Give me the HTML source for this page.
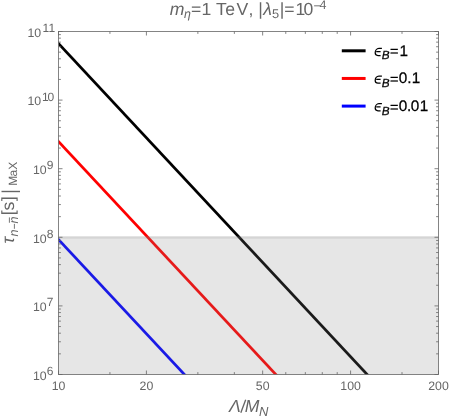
<!DOCTYPE html>
<html><head><meta charset="utf-8"><title>plot</title>
<style>
html,body{margin:0;padding:0;background:#fff;}
svg{display:block;will-change:transform;}
text{font-family:"Liberation Sans",sans-serif;text-rendering:geometricPrecision;}
.g{fill:#666;}
.k{fill:#000;stroke:#000;stroke-width:0.25px;}
.i{font-style:italic;}
</style></head><body>
<svg width="450" height="418" viewBox="0 0 450 418">
<rect x="0" y="0" width="450" height="418" fill="#fff"/>
<defs><clipPath id="c"><rect x="58.5" y="31.5" width="380.0" height="343.0"/></clipPath></defs>

<g>
<line x1="55.5" y1="40.38" x2="372.77" y2="380.5" stroke="#000" stroke-width="2.75" clip-path="url(#c)"/>
<line x1="55.5" y1="138.28" x2="281.45" y2="380.5" stroke="#f00" stroke-width="2.75" clip-path="url(#c)"/>
<line x1="55.5" y1="236.28" x2="190.03" y2="380.5" stroke="#00f" stroke-width="2.75" clip-path="url(#c)"/>
</g>
<rect x="58.5" y="237.30" width="380.0" height="137.20" fill="rgb(128,128,128)" fill-opacity="0.2"/>
<line x1="58.5" y1="237.30" x2="438.5" y2="237.30" stroke="rgb(128,128,128)" stroke-opacity="0.22" stroke-width="2.4"/>
<rect x="58.5" y="31.5" width="380.0" height="343.0" fill="none" stroke="#666" stroke-width="0.8"/>
<path d="M58.50 374.5v-4.0M58.50 31.5v4.0M146.42 374.5v-4.0M146.42 31.5v4.0M262.65 374.5v-4.0M262.65 31.5v4.0M350.58 374.5v-4.0M350.58 31.5v4.0M438.50 374.5v-4.0M438.50 31.5v4.0M109.93 374.5v-2.4M109.93 31.5v2.4M197.86 374.5v-2.4M197.86 31.5v2.4M234.35 374.5v-2.4M234.35 31.5v2.4M285.78 374.5v-2.4M285.78 31.5v2.4M305.33 374.5v-2.4M305.33 31.5v2.4M322.27 374.5v-2.4M322.27 31.5v2.4M337.21 374.5v-2.4M337.21 31.5v2.4M402.01 374.5v-2.4M402.01 31.5v2.4M58.5 374.50h4.0M438.5 374.50h-4.0M58.5 353.85h2.4M438.5 353.85h-2.4M58.5 341.77h2.4M438.5 341.77h-2.4M58.5 333.20h2.4M438.5 333.20h-2.4M58.5 326.55h2.4M438.5 326.55h-2.4M58.5 321.12h2.4M438.5 321.12h-2.4M58.5 316.53h2.4M438.5 316.53h-2.4M58.5 312.55h2.4M438.5 312.55h-2.4M58.5 309.04h2.4M438.5 309.04h-2.4M58.5 305.90h4.0M438.5 305.90h-4.0M58.5 285.25h2.4M438.5 285.25h-2.4M58.5 273.17h2.4M438.5 273.17h-2.4M58.5 264.60h2.4M438.5 264.60h-2.4M58.5 257.95h2.4M438.5 257.95h-2.4M58.5 252.52h2.4M438.5 252.52h-2.4M58.5 247.93h2.4M438.5 247.93h-2.4M58.5 243.95h2.4M438.5 243.95h-2.4M58.5 240.44h2.4M438.5 240.44h-2.4M58.5 237.30h4.0M438.5 237.30h-4.0M58.5 216.65h2.4M438.5 216.65h-2.4M58.5 204.57h2.4M438.5 204.57h-2.4M58.5 196.00h2.4M438.5 196.00h-2.4M58.5 189.35h2.4M438.5 189.35h-2.4M58.5 183.92h2.4M438.5 183.92h-2.4M58.5 179.33h2.4M438.5 179.33h-2.4M58.5 175.35h2.4M438.5 175.35h-2.4M58.5 171.84h2.4M438.5 171.84h-2.4M58.5 168.70h4.0M438.5 168.70h-4.0M58.5 148.05h2.4M438.5 148.05h-2.4M58.5 135.97h2.4M438.5 135.97h-2.4M58.5 127.40h2.4M438.5 127.40h-2.4M58.5 120.75h2.4M438.5 120.75h-2.4M58.5 115.32h2.4M438.5 115.32h-2.4M58.5 110.73h2.4M438.5 110.73h-2.4M58.5 106.75h2.4M438.5 106.75h-2.4M58.5 103.24h2.4M438.5 103.24h-2.4M58.5 100.10h4.0M438.5 100.10h-4.0M58.5 79.45h2.4M438.5 79.45h-2.4M58.5 67.37h2.4M438.5 67.37h-2.4M58.5 58.80h2.4M438.5 58.80h-2.4M58.5 52.15h2.4M438.5 52.15h-2.4M58.5 46.72h2.4M438.5 46.72h-2.4M58.5 42.13h2.4M438.5 42.13h-2.4M58.5 38.15h2.4M438.5 38.15h-2.4M58.5 34.64h2.4M438.5 34.64h-2.4M58.5 31.50h4.0M438.5 31.50h-4.0" stroke="#666" stroke-width="0.8" fill="none"/>
<text class="g" x="58.50" y="390.2" font-size="12.3" text-anchor="middle">10</text>
<text class="g" x="146.42" y="390.2" font-size="12.3" text-anchor="middle">20</text>
<text class="g" x="262.65" y="390.2" font-size="12.3" text-anchor="middle">50</text>
<text class="g" x="350.58" y="390.2" font-size="12.3" text-anchor="middle">100</text>
<text class="g" x="438.50" y="390.2" font-size="12.3" text-anchor="middle">200</text>
<text class="g" x="32.95" y="379.80" font-size="12.3">10</text><text class="g" x="46.85" y="374.90" font-size="12">6</text>
<text class="g" x="32.95" y="311.20" font-size="12.3">10</text><text class="g" x="46.85" y="306.30" font-size="12">7</text>
<text class="g" x="32.95" y="242.60" font-size="12.3">10</text><text class="g" x="46.85" y="237.70" font-size="12">8</text>
<text class="g" x="32.95" y="174.00" font-size="12.3">10</text><text class="g" x="46.85" y="169.10" font-size="12">9</text>
<text class="g" x="27.4" y="105.40" font-size="12.3">10</text><text class="g" x="42.1 47.55" y="100.50" font-size="12">10</text>
<text class="g" x="27.4" y="36.80" font-size="12.3">10</text><text class="g" x="42.5 48.4" y="31.90" font-size="12">11</text>
<text class="g i" x="169.71" y="14.8" font-size="17.6">m</text><text class="g i" x="184.09" y="17.8" font-size="12.4">η</text><text class="g" x="190.94" y="14.8" font-size="17.6">=</text><text class="g" x="201.46" y="14.8" font-size="17.6">1</text><text class="g" x="216.10" y="14.8" font-size="17.6">T</text><text class="g" x="225.25" y="14.8" font-size="17.6">e</text><text class="g" x="236.42" y="14.8" font-size="17.6">V</text><text class="g" x="248.42" y="14.8" font-size="17.6">,</text><text class="g" x="258.23" y="14.8" font-size="17.6">|</text><text class="g i" x="263.30" y="14.8" font-size="17.6">λ</text><text class="g" x="271.99" y="17.8" font-size="12.8">5</text><text class="g" x="279.63" y="14.8" font-size="17.6">|</text><text class="g" x="284.14" y="14.8" font-size="17.6">=</text><text class="g" x="295.56" y="14.8" font-size="17.6">1</text><text class="g" x="303.61" y="14.8" font-size="17.6">0</text><text class="g" x="313.38" y="10.200000000000001" font-size="12.5">−</text><text class="g" x="319.51" y="8.8" font-size="12.5">4</text>
<text class="g i" x="229.01" y="412.2" font-size="17.6">Λ</text><text class="g i" x="244.76" y="412.2" font-size="17.6">M</text><text class="g i" x="258.90" y="415.8" font-size="13.0">N</text>
<path d="M240.8 412.7L245.7 399.7" stroke="#666" stroke-width="1.35" fill="none"/>
<g transform="rotate(-90)"><text class="g i" x="-243.54" y="14.0" font-size="17.6">τ</text><text class="g i" x="-236.41" y="17.7" font-size="12.6">n</text><text class="g i" x="-223.61" y="17.7" font-size="12.6">n</text><text class="g" x="-215.35" y="14.2" font-size="17.6">[</text><text class="g" x="-210.59" y="14.2" font-size="17.6">s</text><text class="g" x="-201.34" y="14.2" font-size="17.6">]</text><text class="g" x="-185.83" y="17.1" font-size="12.0">M</text><text class="g" x="-176.61" y="17.1" font-size="12.0">a</text><text class="g" x="-169.77" y="17.1" font-size="12.0">X</text></g>
<path d="M14.4 228.8V223.9M9.4 222.75V217.4" stroke="#666" stroke-width="0.9" fill="none"/>
<path d="M1.5 191.5H20" stroke="#666" stroke-width="1.4" fill="none"/>
<line x1="341.8" y1="50.80" x2="365.6" y2="50.80" stroke="#000" stroke-width="3"/>
<path transform="translate(0,0.00)" d="M381.9 48.4L378.9 48.4C376.7 48.4 375.2 50.7 375.2 52.8C375.2 54.5 376.2 55.5 378.0 55.5L380.6 55.5M376.2 51.65H380.6" stroke="#000" stroke-width="1.25" fill="none"/>
<text class="k i" x="381.74" y="59.25" font-size="11.8">B</text><text class="k" x="389.89" y="56.25" font-size="14.5">=</text><text class="k" x="399.43" y="55.75" font-size="15.3">1</text>
<line x1="341.8" y1="78.45" x2="365.6" y2="78.45" stroke="#f00" stroke-width="3"/>
<path transform="translate(0,27.65)" d="M381.9 48.4L378.9 48.4C376.7 48.4 375.2 50.7 375.2 52.8C375.2 54.5 376.2 55.5 378.0 55.5L380.6 55.5M376.2 51.65H380.6" stroke="#000" stroke-width="1.25" fill="none"/>
<text class="k i" x="381.74" y="86.89999999999999" font-size="11.8">B</text><text class="k" x="389.89" y="83.89999999999999" font-size="14.5">=</text><text class="k" x="398.80" y="83.39999999999999" font-size="15.3">0</text><text class="k" x="407.30" y="83.39999999999999" font-size="15.3">.</text><text class="k" x="411.83" y="83.39999999999999" font-size="15.3">1</text>
<line x1="341.8" y1="106.10" x2="365.6" y2="106.10" stroke="#00f" stroke-width="3"/>
<path transform="translate(0,55.30)" d="M381.9 48.4L378.9 48.4C376.7 48.4 375.2 50.7 375.2 52.8C375.2 54.5 376.2 55.5 378.0 55.5L380.6 55.5M376.2 51.65H380.6" stroke="#000" stroke-width="1.25" fill="none"/>
<text class="k i" x="381.74" y="114.55" font-size="11.8">B</text><text class="k" x="389.89" y="111.55" font-size="14.5">=</text><text class="k" x="398.80" y="111.05" font-size="15.3">0</text><text class="k" x="407.10" y="111.05" font-size="15.3">.</text><text class="k" x="410.80" y="111.05" font-size="15.3">0</text><text class="k" x="419.83" y="111.05" font-size="15.3">1</text>
</svg></body></html>
